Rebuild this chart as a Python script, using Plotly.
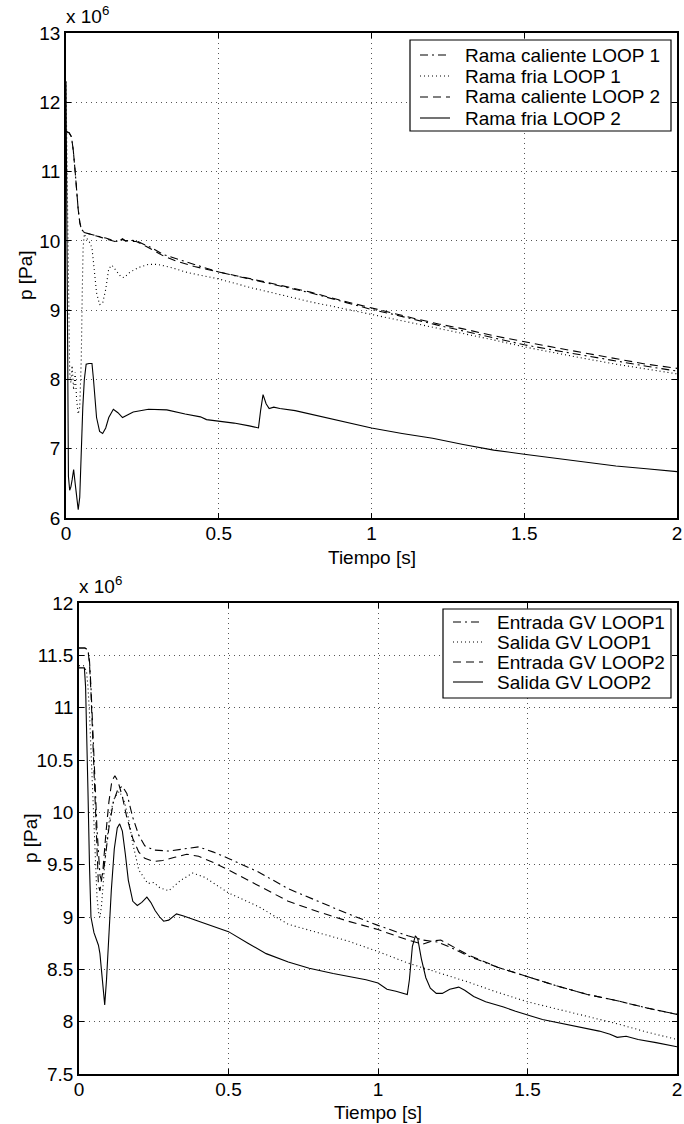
import plotly.graph_objects as go

# ---------------- data (pressure values in units of 1e6 Pa) ----------------
# Top panel
top_rc1_t = [0, 0.01, 0.018, 0.024, 0.03, 0.035, 0.04, 0.045, 0.05, 0.06, 0.07, 0.085, 0.1, 0.115, 0.13, 0.145,
             0.16, 0.175, 0.185, 0.195, 0.21, 0.23, 0.25, 0.28, 0.32, 0.36, 0.42, 0.5, 0.58, 0.65, 0.72, 0.8, 0.9,
             1.0, 1.08, 1.15, 1.22, 1.3, 1.4, 1.5, 1.6, 1.7, 1.8, 1.9, 2.0]
top_rc1_p = [11.58, 11.56, 11.5, 11.3, 11.0, 10.7, 10.45, 10.27, 10.17, 10.12, 10.11, 10.09, 10.07, 10.06, 10.04,
             10.02, 9.99, 10.0, 10.03, 10.0, 10.01, 10.0, 9.96, 9.9, 9.8, 9.74, 9.66, 9.55, 9.47, 9.4, 9.33, 9.25,
             9.13, 9.01, 8.93, 8.85, 8.78, 8.7, 8.6, 8.5, 8.42, 8.34, 8.26, 8.19, 8.12]

top_rc2_t = top_rc1_t
top_rc2_p = [11.58, 11.56, 11.5, 11.3, 11.0, 10.7, 10.45, 10.27, 10.17, 10.12, 10.11, 10.09, 10.07, 10.05, 10.03,
             10.01, 9.99, 10.01, 10.02, 10.0, 10.0, 9.99, 9.95, 9.88, 9.78, 9.71, 9.63, 9.55, 9.48, 9.41, 9.34, 9.26,
             9.14, 9.03, 8.95, 8.87, 8.8, 8.73, 8.63, 8.54, 8.46, 8.38, 8.3, 8.22, 8.16]

top_rf1_t = [0, 0.004, 0.008, 0.012, 0.016, 0.02, 0.025, 0.03, 0.035, 0.04, 0.045, 0.05, 0.053, 0.056, 0.06, 0.065,
             0.075, 0.085, 0.092, 0.1, 0.11, 0.12, 0.13, 0.14, 0.15, 0.165, 0.18, 0.19, 0.21, 0.24, 0.27, 0.3, 0.34,
             0.4, 0.5, 0.6, 0.7, 0.8, 0.9, 1.0, 1.1, 1.2, 1.3, 1.4, 1.5, 1.6, 1.7, 1.8, 1.9, 2.0]
top_rf1_p = [12.3, 10.8, 9.2, 8.1, 7.95, 8.2, 7.85, 8.1, 7.7, 7.5, 7.6, 8.3, 9.2, 9.9, 10.1, 10.05, 10.0, 9.9, 9.6,
             9.25, 9.08, 9.1, 9.3, 9.6, 9.65, 9.57, 9.48, 9.47, 9.55, 9.62, 9.66, 9.66, 9.62, 9.54, 9.45, 9.33, 9.22,
             9.12, 9.03, 8.94, 8.85, 8.76, 8.67, 8.57, 8.47, 8.38, 8.3, 8.22, 8.15, 8.08]

top_rf2_t = [0, 0.004, 0.008, 0.012, 0.016, 0.02, 0.025, 0.03, 0.035, 0.04, 0.045, 0.05, 0.055, 0.06, 0.066, 0.075,
             0.085, 0.09, 0.095, 0.1, 0.11, 0.12, 0.13, 0.14, 0.155, 0.17, 0.185, 0.2, 0.22, 0.27, 0.33, 0.39, 0.44,
             0.46, 0.5, 0.55, 0.6, 0.63, 0.637, 0.645, 0.655, 0.665, 0.68, 0.7, 0.75, 0.8, 0.9, 1.0, 1.1, 1.2, 1.3,
             1.4, 1.5, 1.6, 1.7, 1.8, 1.9, 2.0]
top_rf2_p = [12.3, 9.0, 6.6, 6.4, 6.45, 6.55, 6.7, 6.5, 6.25, 6.12, 6.3, 7.0, 7.6, 8.0, 8.22, 8.23, 8.23, 8.0, 7.7,
             7.45, 7.25, 7.22, 7.3, 7.45, 7.57, 7.52, 7.45, 7.48, 7.53, 7.57, 7.56, 7.5, 7.46, 7.42, 7.4, 7.37, 7.33,
             7.3, 7.55, 7.78, 7.65, 7.58, 7.6, 7.58, 7.55, 7.5, 7.4, 7.3, 7.22, 7.15, 7.06, 6.98, 6.92, 6.86, 6.8,
             6.75, 6.71, 6.67]

# Bottom panel
bot_e1_t = [0, 0.02, 0.03, 0.035, 0.04, 0.045, 0.05, 0.055, 0.06, 0.065, 0.07, 0.075, 0.085, 0.1, 0.115, 0.13, 0.145,
            0.16, 0.18, 0.2, 0.22, 0.25, 0.3, 0.35, 0.4, 0.45, 0.5, 0.6, 0.7, 0.8, 0.9, 1.0, 1.1, 1.15, 1.2, 1.25,
            1.3, 1.4, 1.5, 1.6, 1.7, 1.8, 1.9, 2.0]
bot_e1_p = [11.57, 11.57, 11.55, 11.45, 11.2, 10.9, 10.55, 10.2, 9.85, 9.55, 9.4, 9.35, 9.5, 9.85, 10.1, 10.22, 10.25,
            10.18, 9.95, 9.78, 9.68, 9.64, 9.63, 9.65, 9.67, 9.62, 9.56, 9.43, 9.27, 9.15, 9.03, 8.92, 8.82, 8.78,
            8.76, 8.7, 8.63, 8.52, 8.43, 8.34, 8.26, 8.2, 8.13, 8.07]

bot_s1_t = [0, 0.015, 0.025, 0.03, 0.035, 0.04, 0.045, 0.05, 0.055, 0.06, 0.065, 0.07, 0.075, 0.08, 0.09, 0.1, 0.11,
            0.12, 0.135, 0.15, 0.165, 0.18, 0.2, 0.23, 0.25, 0.27, 0.3, 0.34, 0.38, 0.42, 0.5, 0.6, 0.7, 0.8, 0.9,
            1.0, 1.1, 1.2, 1.3, 1.4, 1.5, 1.6, 1.7, 1.8, 1.9, 2.0]
bot_s1_p = [11.4, 11.4, 11.35, 11.2, 10.95, 10.6, 10.2, 9.8, 9.45, 9.2, 9.05, 9.0, 9.1, 9.3, 9.65, 9.9, 10.05, 10.15,
            10.2, 10.12, 9.95, 9.7, 9.45, 9.32, 9.33, 9.28, 9.25, 9.35, 9.42, 9.38, 9.23, 9.1, 8.93, 8.85, 8.77,
            8.67, 8.56, 8.47, 8.38, 8.28, 8.19, 8.12, 8.05, 7.98, 7.9, 7.83]

bot_e2_t = [0, 0.02, 0.03, 0.035, 0.04, 0.045, 0.05, 0.055, 0.06, 0.065, 0.07, 0.08, 0.09, 0.1, 0.11, 0.12, 0.13,
            0.145, 0.16, 0.18, 0.2, 0.22, 0.25, 0.28, 0.32, 0.36, 0.4, 0.45, 0.5, 0.6, 0.7, 0.8, 0.9, 1.0, 1.1, 1.15,
            1.18, 1.21, 1.25, 1.3, 1.4, 1.5, 1.6, 1.7, 1.8, 1.9, 2.0]
bot_e2_p = [11.57, 11.57, 11.55, 11.42, 11.15, 10.8, 10.4, 10.0, 9.6, 9.3, 9.25, 9.45, 9.8, 10.1, 10.3, 10.35, 10.3,
            10.15, 9.95, 9.75, 9.62, 9.56, 9.53, 9.54, 9.57, 9.6, 9.58, 9.52, 9.45, 9.3, 9.15, 9.05, 8.96, 8.88,
            8.78, 8.74, 8.77, 8.78, 8.72, 8.64, 8.52, 8.43, 8.34, 8.26, 8.2, 8.13, 8.07]

bot_s2_t = [0, 0.018, 0.022, 0.026, 0.03, 0.035, 0.04, 0.05, 0.06, 0.065,
            0.07, 0.075, 0.08, 0.086, 0.092, 0.1, 0.108, 0.118, 0.128, 0.136,
            0.145, 0.155, 0.165, 0.18, 0.195, 0.21, 0.227, 0.24, 0.255, 0.27,
            0.283, 0.3, 0.326, 0.35, 0.38, 0.42, 0.46, 0.5, 0.565, 0.626,
            0.7, 0.77, 0.85, 0.905, 0.96, 1.0, 1.03, 1.06, 1.098, 1.105,
            1.115, 1.125, 1.133, 1.145, 1.16, 1.175, 1.195, 1.215, 1.24, 1.27,
            1.29, 1.32, 1.36, 1.42, 1.46, 1.55, 1.62, 1.686, 1.74, 1.776,
            1.8, 1.83, 1.87, 1.93, 2.0]
bot_s2_p = [11.38, 11.38, 11.2, 10.8, 10.2, 9.5, 9.0, 8.85, 8.77, 8.73,
            8.65, 8.5, 8.3, 8.16, 8.4, 8.85, 9.25, 9.65, 9.85, 9.89,
            9.82, 9.6, 9.35, 9.15, 9.11, 9.14, 9.19, 9.14, 9.06, 9.0,
            8.96, 8.97, 9.03, 9.01, 8.98, 8.94, 8.9, 8.86, 8.75, 8.65,
            8.57, 8.51, 8.46, 8.43, 8.4, 8.37, 8.31, 8.29, 8.26, 8.4,
            8.72, 8.82, 8.79, 8.6, 8.42, 8.32, 8.27, 8.27, 8.31, 8.33,
            8.3, 8.24, 8.19, 8.14, 8.1, 8.02, 7.98, 7.94, 7.91, 7.88,
            7.85, 7.86, 7.83, 7.8, 7.76]

x_ticks = [0, 0.5, 1, 1.5, 2]
x_ticklabels = ["0", "0.5", "1", "1.5", "2"]
top_y_ticks = [6, 7, 8, 9, 10, 11, 12, 13]
top_y_ticklabels = ["6", "7", "8", "9", "10", "11", "12", "13"]
bot_y_ticks = [7.5, 8, 8.5, 9, 9.5, 10, 10.5, 11, 11.5, 12]
bot_y_ticklabels = ["7.5", "8", "8.5", "9", "9.5", "10", "10.5", "11", "11.5", "12"]

top_names = ["Rama caliente LOOP 1", "Rama fria LOOP 1", "Rama caliente LOOP 2", "Rama fria LOOP 2"]
bot_names = ["Entrada GV LOOP1", "Salida GV LOOP1", "Entrada GV LOOP2", "Salida GV LOOP2"]

# ---------------- figure ----------------
W, H = 684, 1124
FONT = "Liberation Sans, Arial, Helvetica, sans-serif"
FS = 19


def px(x):
    return x / W


def py(y):
    return 1 - y / H


DASHDOT = "8px,4px,2px,4px"
DOT = "1px,3px"
DASH = "8px,5px"
styles = [DASHDOT, DOT, DASH, "solid"]

fig = go.Figure()

top_series = [(top_rc1_t, top_rc1_p), (top_rf1_t, top_rf1_p), (top_rc2_t, top_rc2_p), (top_rf2_t, top_rf2_p)]
for (t, p), d, name in zip(top_series, styles, top_names):
    fig.add_trace(go.Scatter(x=t, y=p, mode="lines", name=name, xaxis="x", yaxis="y", showlegend=False,
                             line=dict(color="black", width=1.1, dash=d)))

bot_series = [(bot_e1_t, bot_e1_p), (bot_s1_t, bot_s1_p), (bot_e2_t, bot_e2_p), (bot_s2_t, bot_s2_p)]
for (t, p), d, name in zip(bot_series, styles, bot_names):
    fig.add_trace(go.Scatter(x=t, y=p, mode="lines", name=name, xaxis="x2", yaxis="y2", showlegend=False,
                             line=dict(color="black", width=1.1, dash=d)))

axis_common = dict(showline=True, linecolor="black", linewidth=1.5, mirror="ticks",
                   ticks="inside", ticklen=5, tickcolor="black", tickwidth=1,
                   showgrid=True, gridcolor="#555555", gridwidth=1, griddash="1px,4px",
                   zeroline=False, automargin=False,
                   tickfont=dict(family=FONT, size=FS, color="black"))

fig.update_layout(
    width=W, height=H, margin=dict(l=0, r=0, t=0, b=0),
    paper_bgcolor="white", plot_bgcolor="white", template="none",
    font=dict(family=FONT, size=FS, color="black"),
    xaxis=dict(domain=[px(66), px(677)], anchor="y", range=[0, 2], ticklabelstandoff=-3,
               tickvals=x_ticks, ticktext=x_ticklabels, **axis_common),
    yaxis=dict(domain=[py(518), py(33)], anchor="x", range=[6, 13],
               tickvals=top_y_ticks, ticktext=top_y_ticklabels, **axis_common),
    xaxis2=dict(domain=[px(79), px(677)], anchor="y2", range=[0, 2], ticklabelstandoff=-3,
                tickvals=x_ticks, ticktext=x_ticklabels, **axis_common),
    yaxis2=dict(domain=[py(1074), py(603)], anchor="x2", range=[7.5, 12],
                tickvals=bot_y_ticks, ticktext=bot_y_ticklabels, **axis_common),
    showlegend=False,
)

# ---- legends drawn as boxed keys (sample line + label) ----
legend_specs = [
    dict(box=(410, 40, 671, 131), rows=[55, 76, 97, 118], sample=(420, 450), text_x=463, names=top_names),
    dict(box=(443, 609, 671, 698), rows=[622, 642, 662, 682], sample=(453, 483), text_x=495, names=bot_names),
]
for spec in legend_specs:
    x0, y0, x1, y1 = spec["box"]
    fig.add_shape(type="rect", xref="paper", yref="paper", x0=px(x0), y0=py(y1), x1=px(x1), y1=py(y0),
                  line=dict(color="black", width=1.2), fillcolor="white", layer="above")
    for row_y, d, name in zip(spec["rows"], styles, spec["names"]):
        sx0, sx1 = spec["sample"]
        fig.add_shape(type="line", xref="paper", yref="paper", x0=px(sx0), x1=px(sx1), y0=py(row_y), y1=py(row_y),
                      line=dict(color="black", width=1.1, dash=d), layer="above")
        fig.add_annotation(xref="paper", yref="paper", x=px(spec["text_x"]), y=py(row_y), text=name,
                           xanchor="left", yanchor="middle", showarrow=False,
                           font=dict(family=FONT, size=FS, color="black"))

annots = [
    dict(text="x 10<sup>6</sup>", x=px(64), y=py(29), xanchor="left", yanchor="bottom"),
    dict(text="x 10<sup>6</sup>", x=px(77), y=py(599), xanchor="left", yanchor="bottom"),
    dict(text="p [Pa]", x=px(26), y=py(275), textangle=-90, xanchor="center", yanchor="middle"),
    dict(text="p [Pa]", x=px(30), y=py(838), textangle=-90, xanchor="center", yanchor="middle"),
    dict(text="Tiempo [s]", x=px(372), y=py(557), xanchor="center", yanchor="middle"),
    dict(text="Tiempo [s]", x=px(378), y=py(1112), xanchor="center", yanchor="middle"),
]
for a in annots:
    fig.add_annotation(xref="paper", yref="paper", showarrow=False,
                       font=dict(family=FONT, size=FS, color="black"), **a)

fig.write_html("out.html")
